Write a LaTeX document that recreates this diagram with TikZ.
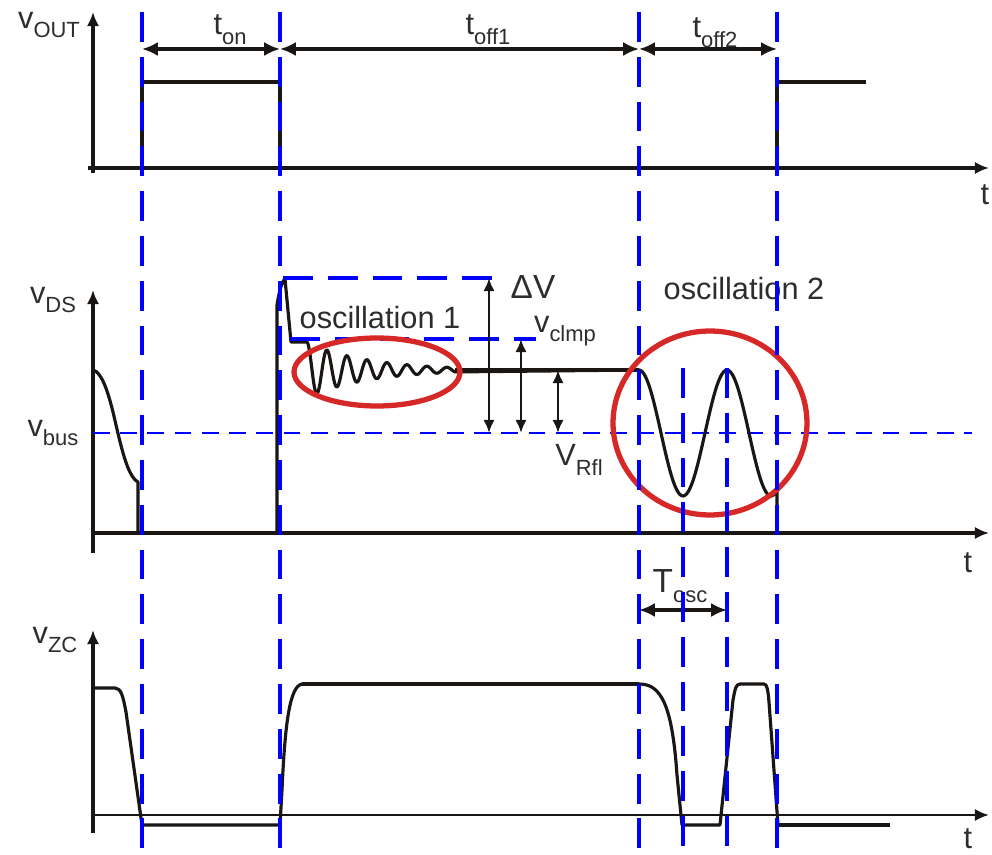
\documentclass[tikz,border=0pt]{standalone}
\usepackage{fontspec}
\setmainfont{Liberation Sans}
\usetikzlibrary{arrows.meta}
\definecolor{ink}{RGB}{25,22,20}
\definecolor{txt}{RGB}{45,45,45}
\definecolor{bl}{RGB}{0,0,255}
\definecolor{rd}{RGB}{215,40,40}
\newcommand{\lbsub}[1]{\raisebox{-5.5pt}{\fontsize{12.5}{13}\selectfont #1}}
\begin{document}
\begin{tikzpicture}[x=0.02cm,y=-0.02cm,
  wave/.style={ink, line width=1.8pt, line join=round},
  axis/.style={ink, line width=2.1pt, -{Latex[length=8pt,width=7pt]}},
  guide/.style={bl, line width=1.9pt, dash pattern=on 17pt off 8.5pt},
  busline/.style={bl, line width=1.1pt, dash pattern=on 9.5pt off 6pt},
  dimarrow/.style={ink, line width=2pt, {Latex[length=9pt,width=8pt]}-{Latex[length=9pt,width=8pt]}},
  vdim/.style={ink, line width=1.7pt, {Latex[length=7.5pt,width=6.5pt]}-{Latex[length=7.5pt,width=6.5pt]}},
  lab/.style={txt, font=\fontsize{17.5}{20}\selectfont, inner sep=0pt},
  ring/.style={rd, line width=3pt}]
\useasboundingbox (0,0) rectangle (992,855);

% ---------- top panel: v_OUT ----------
\draw[axis] (93,173) -- (93,12);
\draw[axis] (88,168) -- (989,168);
\draw[wave] (142,168) -- (142,82) -- (280,82) -- (280,168);
\draw[wave] (777,168) -- (777,82) -- (866,82);
\coordinate (a1) at (142,49);
\coordinate (a2) at (280,49);
\coordinate (a3) at (639,49);
\coordinate (a4) at (777,49);
\draw[dimarrow, line width=2.4pt] (a1) -- (a2);
\draw[dimarrow] (a2) -- (a3);
\draw[dimarrow] (a3) -- (a4);
\node[lab] (vout) at (49,25) {v\lbsub{OUT}};
\node[lab] (ton) at (230,30) {t\lbsub{on}};
\node[lab] (toff1) at (488,30) {t\lbsub{off1}};
\node[lab] (toff2) at (715,33) {t\lbsub{off2}};
\node[lab] (t1) at (985,195) {t};

% ---------- middle panel: v_DS ----------
\draw[axis] (93,553) -- (93,290);
\draw[axis] (93,533) -- (989,533);
\draw[busline] (93,433) -- (972,433);
\draw[wave] (93,370) .. controls (101,372) and (107,388) .. (113,412)
  .. controls (121,446) and (127,476) .. (138,482) -- (138,533) -- (277,533)
  -- (277,305) .. controls (279,292) and (282,281) .. (285,279) -- (291,342) -- (307,342)
  -- plot[domain=307:455, samples=160] (\x, {370-28*exp(-(\x-307)/60)*cos(18*(\x-307))})
  -- (639,370)
  -- plot[domain=639:777, samples=100] (\x, {433-63*cos(4.0909*(\x-639))})
  -- (777,533) -- (922,533);
\draw[wave, line width=2.6pt] (455,370) -- (639,370);
\draw[guide] (283,278) -- (500,278);
\draw[guide] (290,339) -- (536,339);
\draw[ring] (377,372) ellipse [x radius=1.66cm, y radius=0.68cm];
\draw[ring] (710,423) ellipse [x radius=1.94cm, y radius=1.84cm];
\coordinate (d1t) at (489,278);
\coordinate (d1b) at (489,433);
\coordinate (d2t) at (521,339);
\coordinate (d2b) at (521,433);
\coordinate (d3t) at (558,370);
\coordinate (d3b) at (558,433);
\draw[vdim] (d1t) -- (d1b);
\draw[vdim] (d2t) -- (d2b);
\draw[vdim] (d3t) -- (d3b);
\node[lab] (vds) at (53,300) {v\lbsub{DS}};
\node[lab] (vbus) at (53,433) {v\lbsub{bus}};
\node[lab] (osc1) at (380,318) {oscillation 1};
\node[lab] (osc2) at (744,289) {oscillation 2};
\node[lab, font=\fontsize{19}{22}\selectfont] (dv) at (533,287) {ΔV};
\node[lab] (vclmp) at (565,331) {v\lbsub{clmp}};
\node[lab] (vrfl) at (579,460) {V\lbsub{Rfl}};
\node[lab] (t2) at (968,563) {t};

% ---------- bottom panel: v_ZC ----------
\draw[axis] (93,833) -- (93,630);
\draw[ink, line width=1.6pt, -{Latex[length=8pt,width=7pt]}] (93,815) -- (989,815);
\draw[wave] (93,688) -- (115,688) .. controls (121,688) and (123,696) .. (126,712)
  -- (142,825) -- (280,825) -- (282,790) .. controls (285,722) and (290,686) .. (302,684)
  -- (639,684) .. controls (660,684) and (672,702) .. (677,775) -- (682,825) -- (720,825)
  -- (733,700) .. controls (735,689) and (736,684) .. (740,684) -- (764,684)
  .. controls (767,684) and (768,690) .. (769,702) -- (778,825);
\draw[wave, line width=2.6pt] (302,684) -- (639,684);
\draw[wave, line width=2.6pt] (778,825) -- (890,825);
\coordinate (o1) at (639,610);
\coordinate (o2) at (727,610);
\draw[dimarrow] (o1) -- (o2);
\node[lab] (vzc) at (55,640) {v\lbsub{ZC}};
\node[lab, font=\fontsize{19}{22}\selectfont] (tosc) at (680,586) {T\lbsub{osc}};
\node[lab] (t3) at (968,839) {t};

% ---------- vertical guides ----------
\draw[guide] (142,12) -- (142,855);
\draw[guide] (280,12) -- (280,855);
\draw[guide] (639,12) -- (639,855);
\draw[guide] (777,12) -- (777,855);
\draw[guide] (683,368) -- (683,855);
\draw[guide] (727,368) -- (727,855);
\end{tikzpicture}
\end{document}
